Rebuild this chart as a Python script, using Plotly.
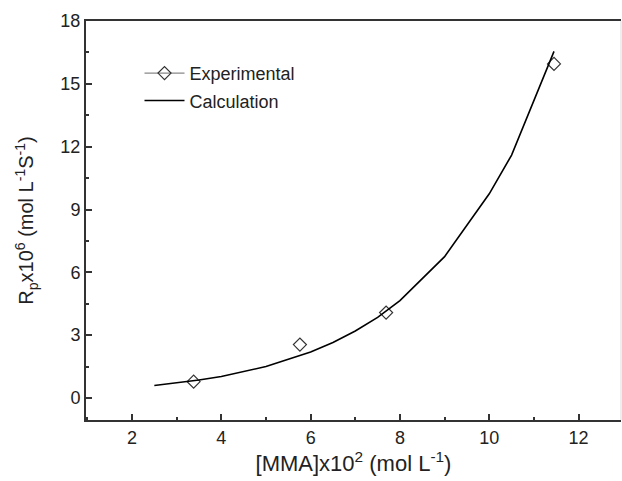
import plotly.graph_objects as go

# Measured polymerization rate vs monomer concentration
exp_mma = [3.38, 5.76, 7.69, 11.45]
exp_rp = [0.78, 2.55, 4.08, 15.95]

# Model calculation
calc_mma = [2.5, 3.0, 3.5, 4.0, 5.0, 6.0, 6.5, 7.0, 7.5, 8.0, 9.0, 10.0, 10.5, 11.45]
calc_rp = [0.6, 0.72, 0.86, 1.03, 1.5, 2.2, 2.65, 3.2, 3.85, 4.65, 6.75, 9.75, 11.6, 16.55]

x_ticks = [2, 4, 6, 8, 10, 12]
y_ticks = [0, 3, 6, 9, 12, 15, 18]

FONT = "Liberation Sans, Arial, sans-serif"
AXIS_COLOR = "#333333"

fig = go.Figure()

# data markers (no connecting line in the plot)
fig.add_trace(go.Scatter(
    x=exp_mma, y=exp_rp, mode="markers",
    marker=dict(symbol="diamond-open", size=10, color="#333333", line=dict(width=1.2)),
    showlegend=False,
))
# legend entry for the experimental series: grey line with diamond
fig.add_trace(go.Scatter(
    x=[None], y=[None], mode="lines+markers", name="Experimental",
    legendgroup="exp",
    line=dict(color="#888888", width=1.2),
    marker=dict(symbol="diamond-open", size=10, color="#333333", line=dict(width=1.2)),
))
fig.add_trace(go.Scatter(
    x=calc_mma, y=calc_rp, mode="lines", name="Calculation",
    legendgroup="calc",
    line=dict(color="black", width=1.6),
))

fig.update_layout(
    width=622, height=481,
    margin=dict(l=86, r=1, t=21, b=61),
    paper_bgcolor="white", plot_bgcolor="white",
    font=dict(family=FONT, size=18, color="#222222"),
    legend=dict(
        x=0.1, y=0.915, xanchor="left", yanchor="top",
        bgcolor="rgba(0,0,0,0)", font=dict(size=18),
        itemwidth=40, tracegroupgap=1,
    ),
    xaxis=dict(
        range=[0.97, 12.95], tickvals=x_ticks,
        ticks="inside", ticklen=6, tickwidth=1.5, tickcolor=AXIS_COLOR,
        minor=dict(dtick=1, tick0=1, ticks="inside", ticklen=3, tickwidth=1.5, tickcolor=AXIS_COLOR),
        showline=True, linecolor=AXIS_COLOR, linewidth=2, mirror=True,
        showgrid=False, zeroline=False,
        title=dict(text="[MMA]x10<sup>2</sup> (mol L<sup>-1</sup>)", standoff=6),
    ),
    yaxis=dict(
        range=[-1.05, 18], tickvals=y_ticks,
        ticks="inside", ticklen=6, tickwidth=1.5, tickcolor=AXIS_COLOR,
        minor=dict(dtick=1.5, tick0=0, ticks="inside", ticklen=3, tickwidth=1.5, tickcolor=AXIS_COLOR),
        showline=True, linecolor=AXIS_COLOR, linewidth=2,
        showgrid=False, zeroline=False,
        title=dict(text="R<sub>p</sub>x10<sup>6</sup> (mol L<sup>-1</sup>S<sup>-1</sup>)",
                   font=dict(size=20), standoff=21),
    ),
)

# faint right-hand frame edge
fig.add_shape(type="line", xref="paper", yref="paper", x0=1, x1=1, y0=0, y1=1,
              line=dict(color="#dddddd", width=1))

fig.write_html("out.html")
